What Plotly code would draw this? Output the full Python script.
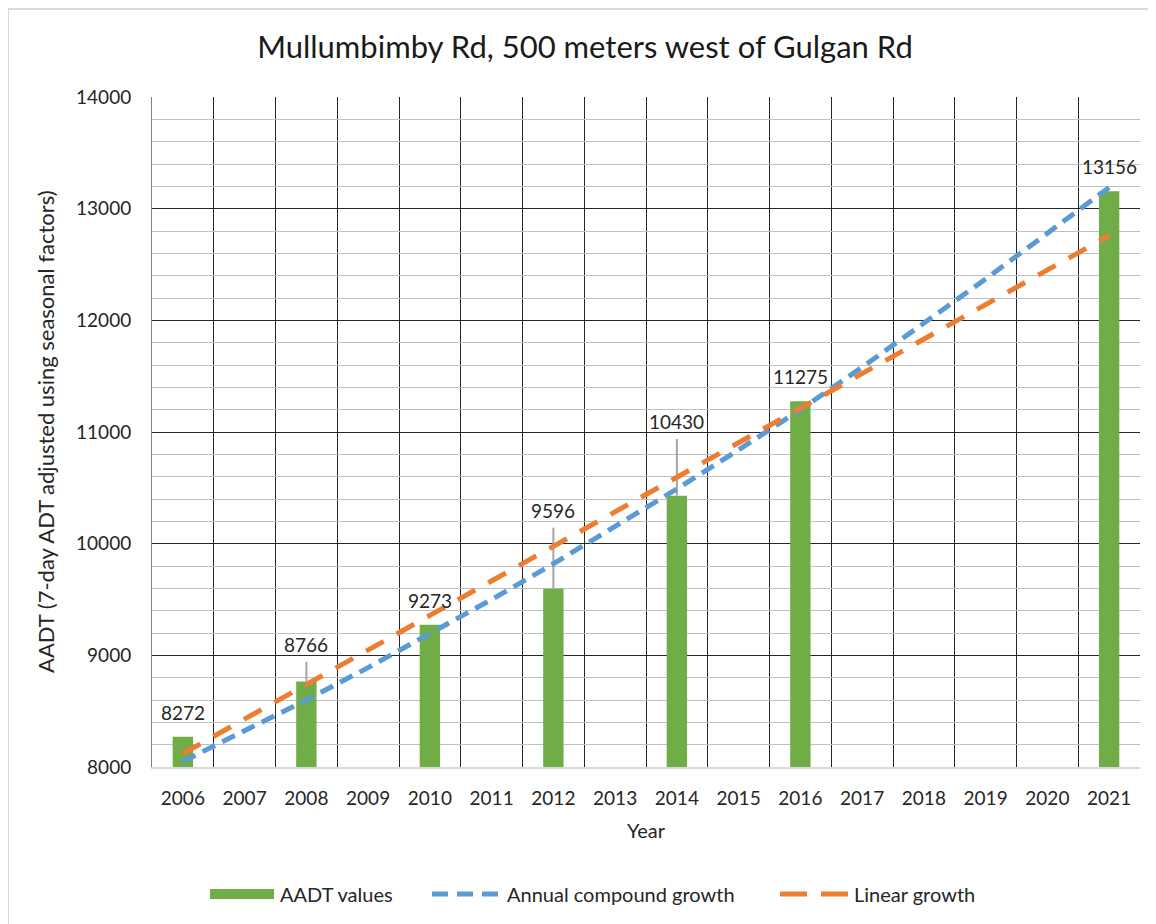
import plotly.graph_objects as go

# ---- data ----
years = list(range(2006, 2022))
bar_years = [2006, 2008, 2010, 2012, 2014, 2016, 2021]
aadt_values = [8272, 8766, 9273, 9596, 10430, 11275, 13156]
err_plus = [0, 177, 0, 547, 507, 0, 0]
compound_growth = [8050, 8320, 8600, 8890, 9190, 9500, 9820, 10150,
                   10490, 10840, 11200, 11580, 11970, 12370, 12780, 13190]
linear_growth = [8120, 8430, 8740, 9050, 9350, 9660, 9970, 10280,
                 10590, 10900, 11210, 11520, 11830, 12140, 12450, 12760]
series_names = ["AADT values", "Annual compound growth", "Linear growth"]

title_text = "Mullumbimby Rd, 500 meters west of Gulgan Rd"
y_title = "AADT (7-day ADT adjusted using seasonal factors)"
x_title = "Year"

GREEN = "#70AD47"
BLUE = "#5B9BD5"
ORANGE = "#ED7D31"
TXT = "#262626"
FONT = "Lato"

# page has an 8px body margin; figure sized so screen coords line up
W, H = 1148, 916
L, T = 144, 89
PW, PH = 988, 670


def px(sx):  # screen x -> paper x
    return (sx - 8 - L) / PW


def py(sy):  # screen y -> paper y
    return (T + PH - (sy - 8)) / PH


fig = go.Figure()

fig.add_trace(go.Bar(
    x=bar_years, y=aadt_values, width=0.33, marker=dict(color=GREEN, line=dict(width=0)),
    error_y=dict(type="data", array=err_plus, arrayminus=[0] * len(err_plus),
                 symmetric=False, color="#A5A5A5", thickness=2, width=0),
    showlegend=False, name=series_names[0],
))
fig.add_trace(go.Scatter(x=years, y=compound_growth, mode="lines",
                         line=dict(color=BLUE, width=5, dash="14px,8px"),
                         name=series_names[1], showlegend=False))
fig.add_trace(go.Scatter(x=years, y=linear_growth, mode="lines",
                         line=dict(color=ORANGE, width=5, dash="20px,15px"),
                         name=series_names[2], showlegend=False))

# data labels
for yr, v, e in zip(bar_years, aadt_values, err_plus):
    fig.add_annotation(x=yr, y=v + e, text=str(v), showarrow=False,
                       yanchor="bottom", yshift=(4 if e > 0 else 11),
                       font=dict(family=FONT, size=19, color=TXT))

# axis titles
fig.add_annotation(xref="paper", yref="paper", x=px(45), y=0.5, text=y_title,
                   textangle=-90, showarrow=False, xanchor="center", yanchor="middle",
                   font=dict(family=FONT, size=22, color=TXT))
fig.add_annotation(xref="paper", yref="paper", x=0.5, y=py(830), text=x_title,
                   showarrow=False, xanchor="center", yanchor="middle",
                   font=dict(family=FONT, size=20, color=TXT))

# manual legend
leg_y = py(894)
swatches = [
    (210, 274, GREEN, 10, "solid", 278),
    (432, 498, BLUE, 5, "16px,9px", 505),
    (780, 848, ORANGE, 5, "27px,14px", 852),
]
for (x0, x1, col, wd, dash, tx), name in zip(swatches, series_names):
    fig.add_shape(type="line", xref="paper", yref="paper", x0=px(x0), x1=px(x1),
                  y0=leg_y, y1=leg_y, line=dict(color=col, width=wd, dash=dash))
    fig.add_annotation(xref="paper", yref="paper", x=px(tx), y=leg_y, text=name,
                       showarrow=False, xanchor="left", yanchor="middle",
                       font=dict(family=FONT, size=20, color=TXT))

# light chart border (left and top)
fig.add_shape(type="line", xref="paper", yref="paper",
              x0=px(8), x1=px(8), y0=py(9), y1=py(940),
              line=dict(color="#D9D9D9", width=2))
fig.add_shape(type="line", xref="paper", yref="paper",
              x0=px(8), x1=px(1170), y0=py(9), y1=py(9),
              line=dict(color="#D9D9D9", width=2))

fig.update_layout(
    width=W, height=H,
    margin=dict(l=L, r=W - L - PW, t=T, b=H - T - PH, autoexpand=False),
    paper_bgcolor="white", plot_bgcolor="white",
    font=dict(family=FONT, size=19, color=TXT),
    showlegend=False,
    title=dict(text=title_text, x=(585 - 8) / W, xref="container", xanchor="center",
               y=1 - (47 - 8) / H, yref="container", yanchor="middle",
               font=dict(family=FONT, size=31, color="#1a1a1a")),
    xaxis=dict(range=[2005.5, 2021.5], tickmode="array", tickvals=years,
               ticktext=[str(y) for y in years], showgrid=False, zeroline=False,
               showline=True, linecolor="#D9D9D9", linewidth=2,
               ticks="", ticklabelstandoff=13,
               tickfont=dict(family=FONT, size=19, color=TXT),
               minor=dict(tickmode="linear", tick0=2005.5, dtick=1, showgrid=True,
                          gridcolor="#262626", gridwidth=1)),
    yaxis=dict(range=[8000, 14000], tickmode="linear", tick0=8000, dtick=1000,
               tickformat="d",
               showgrid=True, gridcolor="#262626", gridwidth=1, zeroline=False,
               showline=True, linecolor="#808080", linewidth=1,
               ticks="", ticklabelstandoff=16,
               tickfont=dict(family=FONT, size=19, color=TXT),
               minor=dict(tickmode="linear", tick0=8000, dtick=200, showgrid=True,
                          gridcolor="#BFBFBF", gridwidth=1)),
    bargap=0.67,
)

fig.write_html("out.html")
